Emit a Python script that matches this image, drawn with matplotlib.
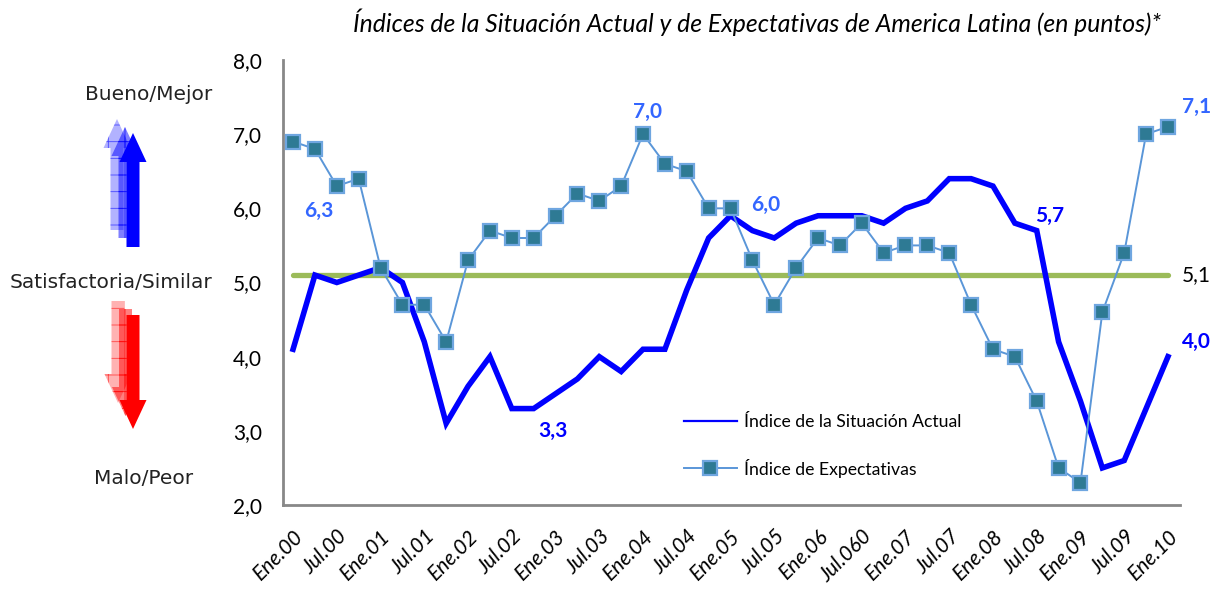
import numpy as np
import matplotlib
matplotlib.use('Agg')
from matplotlib import pyplot as plt
from matplotlib.lines import Line2D
from matplotlib.patches import FancyArrow
from matplotlib.colors import to_rgba

# datos trimestrales Ene.00 .. Ene.10
situacion = [4.1, 5.1, 5.0, 5.1, 5.2, 5.0, 4.2, 3.1, 3.6, 4.0, 3.3, 3.3, 3.5, 3.7, 4.0, 3.8,
             4.1, 4.1, 4.9, 5.6, 5.9, 5.7, 5.6, 5.8, 5.9, 5.9, 5.9, 5.8, 6.0, 6.1, 6.4, 6.4,
             6.3, 5.8, 5.7, 4.2, 3.4, 2.5, 2.6, 3.3, 4.0]
expectativas = [6.9, 6.8, 6.3, 6.4, 5.2, 4.7, 4.7, 4.2, 5.3, 5.7, 5.6, 5.6, 5.9, 6.2, 6.1, 6.3,
                7.0, 6.6, 6.5, 6.0, 6.0, 5.3, 4.7, 5.2, 5.6, 5.5, 5.8, 5.4, 5.5, 5.5, 5.4, 4.7,
                4.1, 4.0, 3.4, 2.5, 2.3, 4.6, 5.4, 7.0, 7.1]
promedio = 5.1
tick_labels = ['Ene.00', 'Jul.00', 'Ene.01', 'Jul.01', 'Ene.02', 'Jul.02', 'Ene.03', 'Jul.03',
               'Ene.04', 'Jul.04', 'Ene.05', 'Jul.05', 'Ene.06', 'Jul.060', 'Ene.07', 'Jul.07',
               'Ene.08', 'Jul.08', 'Ene.09', 'Jul.09', 'Ene.10']
# indices con etiqueta de valor
labels_exp = [2, 16, 20, 40]
labels_sit = [11, 34, 40]

plt.rcParams['font.family'] = ['Lato', 'DejaVu Sans']
plt.rcParams['hatch.linewidth'] = 0.6

x = np.arange(len(situacion))
fig = plt.figure(figsize=(12.18, 5.90), dpi=100)
ax = fig.add_axes([283 / 1218, 1 - 505 / 590, (1180 - 283) / 1218, 445 / 590])

ax.plot([x[0], x[-1]], [promedio, promedio], color='#9BBB59', lw=3.8, solid_capstyle='round', zorder=2)
ax.plot(x, situacion, color='#0000FF', lw=4.0, solid_joinstyle='miter', zorder=3)
ax.plot(x, expectativas, color='#5A96D8', lw=1.4, marker='s', ms=10,
        markerfacecolor='#2E7A94', markeredgecolor='#6FA6E0', mew=1.6, zorder=4)

ax.set_xlim(-0.46, 40.55)
ax.set_ylim(2, 8)
ax.set_yticks(np.arange(2, 9))
ax.set_yticklabels(['%d,0' % v for v in range(2, 9)])
ax.set_xticks(x[::2])
ax.set_xticklabels(tick_labels, rotation=45, ha='right', rotation_mode='anchor', style='italic')
ax.tick_params(axis='both', length=0, labelsize=15)
ax.tick_params(axis='y', pad=15)
ax.tick_params(axis='x', pad=15)
for s in ['top', 'right']:
    ax.spines[s].set_visible(False)
for s in ['left', 'bottom']:
    ax.spines[s].set_color('#888888')
    ax.spines[s].set_linewidth(2)

# etiquetas de datos
offs_exp = {2: (-0.8, -0.33), 16: (0.2, 0.3), 20: (1.6, 0.05), 40: (1.3, 0.27)}
for i in labels_exp:
    dx, dy = offs_exp[i]
    ax.text(x[i] + dx, expectativas[i] + dy, ('%.1f' % expectativas[i]).replace('.', ','),
            color='#3366FF', fontsize=15, fontweight='bold', ha='center', va='center')
offs_sit = {11: (0.9, -0.3), 34: (0.6, 0.2), 40: (1.3, 0.2)}
for i in labels_sit:
    dx, dy = offs_sit[i]
    ax.text(x[i] + dx, situacion[i] + dy, ('%.1f' % situacion[i]).replace('.', ','),
            color='#0000FF', fontsize=15, fontweight='bold', ha='center', va='center')
ax.text(x[-1] + 1.3, promedio, ('%.1f' % promedio).replace('.', ','), fontsize=15,
        ha='center', va='center', color='black')

handles = [Line2D([], [], color='#0000FF', lw=1.6),
           Line2D([], [], color='#5A96D8', lw=1.4, marker='s', ms=10,
                  markerfacecolor='#2E7A94', markeredgecolor='#6FA6E0', mew=1.6)]
fig.legend(handles, ['Índice de la Situación Actual', 'Índice de Expectativas'],
           loc='center left', bbox_to_anchor=(668 / 1218, 1 - 446 / 590), frameon=False,
           fontsize=12.7, handlelength=3.0, handletextpad=0.4, labelspacing=1.6)

fig.text(757 / 1218, 1 - 22 / 590,
         'Índices de la Situación Actual y de Expectativas de America Latina (en puntos)*',
         ha='center', va='center', style='italic', fontsize=17.8)

# textos y flechas de la izquierda
left_font = ['DejaVu Sans']
fig.text(212 / 1218, 1 - 95 / 590, 'Bueno/Mejor', ha='right', va='center', fontsize=14.5,
         family=left_font, color='#222222')
fig.text(212 / 1218, 1 - 282 / 590, 'Satisfactoria/Similar', ha='right', va='center',
         fontsize=14.5, family=left_font, color='#222222')
fig.text(193 / 1218, 1 - 479 / 590, 'Malo/Peor', ha='right', va='center', fontsize=14.5,
         family=left_font, color='#222222')


def flecha(cx, y0, y1, color, alpha):
    kw = dict(facecolor=to_rgba(color, alpha), lw=0)
    if alpha < 1:
        kw.update(hatch='+', edgecolor=to_rgba(color, min(1, alpha + 0.3)))
    a = FancyArrow(cx / 1218, 1 - y0 / 590, 0, (y0 - y1) / 590, width=13 / 1218,
                   head_width=27 / 1218, head_length=29 / 590, length_includes_head=True,
                   transform=fig.transFigure, **kw)
    fig.patches.append(a)


for (cx, y0, y1, al) in [(117, 230, 119, 0.3), (125, 238, 127, 0.5), (133, 247, 133, 1.0)]:
    flecha(cx, y0, y1, '#0000FF', al)
for (cx, y0, y1, al) in [(118, 301, 403, 0.3), (125.5, 309, 416, 0.5), (133, 315, 429, 1.0)]:
    flecha(cx, y0, y1, '#FF0000', al)

fig.savefig('out.png', dpi=100)
